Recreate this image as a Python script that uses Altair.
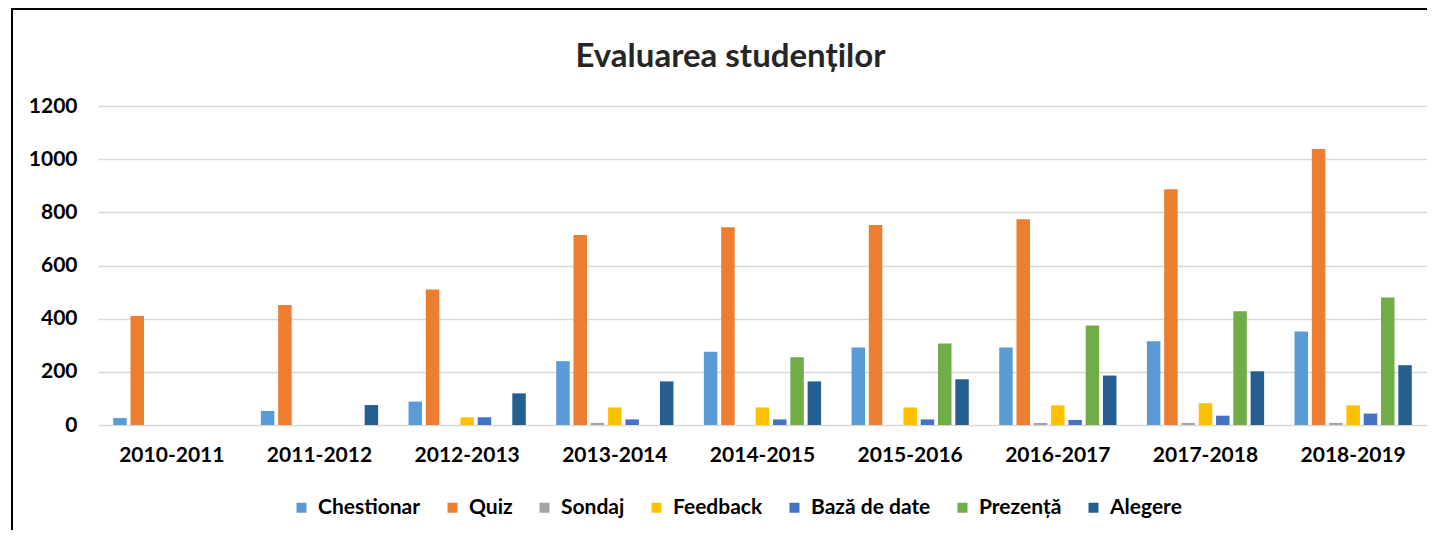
import altair as alt
import pandas as pd

years = ["2010-2011", "2011-2012", "2012-2013", "2013-2014", "2014-2015",
         "2015-2016", "2016-2017", "2017-2018", "2018-2019"]
series = ["Chestionar", "Quiz", "Sondaj", "Feedback", "Bază de date", "Prezență", "Alegere"]
colors = ["#5B9BD5", "#ED7D31", "#A5A5A5", "#FFC000", "#4472C4", "#70AD47", "#255E91"]

chestionar = [26, 53, 88, 240, 276, 292, 292, 315, 352]
quiz = [410, 451, 510, 715, 744, 752, 774, 887, 1038]
sondaj = [0, 0, 0, 8, 0, 0, 8, 8, 8]
feedback = [0, 0, 29, 66, 66, 66, 74, 82, 74]
baza_de_date = [0, 0, 29, 21, 21, 21, 19, 35, 43]
prezenta = [0, 0, 0, 0, 255, 307, 374, 428, 480]
alegere = [0, 75, 119, 164, 164, 172, 186, 202, 225]

y_ticks = [0, 200, 400, 600, 800, 1000, 1200]

values = [chestionar, quiz, sondaj, feedback, baza_de_date, prezenta, alegere]
rows = []
for s, vals in zip(series, values):
    for yr, v in zip(years, vals):
        rows.append({"An": yr, "Serie": s, "Valoare": v})
df = pd.DataFrame(rows)

FONT = "Lato"

bars = alt.Chart(df).mark_bar().encode(
    x=alt.X("An:N", sort=years,
            scale=alt.Scale(paddingInner=0.206, paddingOuter=0.103),
            axis=alt.Axis(title=None, labelAngle=0, ticks=False, domain=False,
                          labelFont=FONT, labelFontSize=21, labelFontWeight="bold",
                          labelColor="#000000", labelPadding=19)),
    xOffset=alt.XOffset("Serie:N", sort=series,
                        scale=alt.Scale(paddingInner=0.22, paddingOuter=0)),
    y=alt.Y("Valoare:Q",
            scale=alt.Scale(domain=[0, 1200]),
            axis=alt.Axis(title=None, values=y_ticks, format="d", ticks=False, domain=False,
                          grid=True, gridColor="#d9d9d9", gridWidth=1.5,
                          labelFont=FONT, labelFontSize=21, labelFontWeight="bold",
                          labelColor="#000000", labelPadding=21)),
    color=alt.Color("Serie:N", sort=series,
                    scale=alt.Scale(domain=series, range=colors),
                    legend=alt.Legend(title=None, orient="none", legendX=193, legendY=391,
                                      direction="horizontal", symbolType="square",
                                      symbolSize=100, symbolStrokeWidth=0,
                                      labelFont=FONT, labelFontSize=21,
                                      labelFontWeight="bold", labelColor="#000000",
                                      labelOffset=6, columnPadding=21, padding=0)),
)

frame_df = pd.DataFrame({"k": [0]})
top_edge = alt.Chart(frame_df).mark_rect(color="#000000", strokeWidth=0).encode(
    x=alt.value(-87), x2=alt.value(1329), y=alt.value(-98), y2=alt.value(-96))
left_edge = alt.Chart(frame_df).mark_rect(color="#000000", strokeWidth=0).encode(
    x=alt.value(-87), x2=alt.value(-85), y=alt.value(-98), y2=alt.value(424))

chart = alt.layer(bars, top_edge, left_edge).properties(
    width=1329, height=319,
    title=alt.TitleParams("Evaluarea studenților", font=FONT, fontSize=33,
                          fontWeight="bold", color="#262626",
                          anchor="middle", dx=-32, offset=-66),
    padding={"left": 3, "top": 0, "right": 0, "bottom": 0},
).configure_view(stroke=None)

chart.save("out.html", embed_options={"renderer": "svg", "actions": False})
